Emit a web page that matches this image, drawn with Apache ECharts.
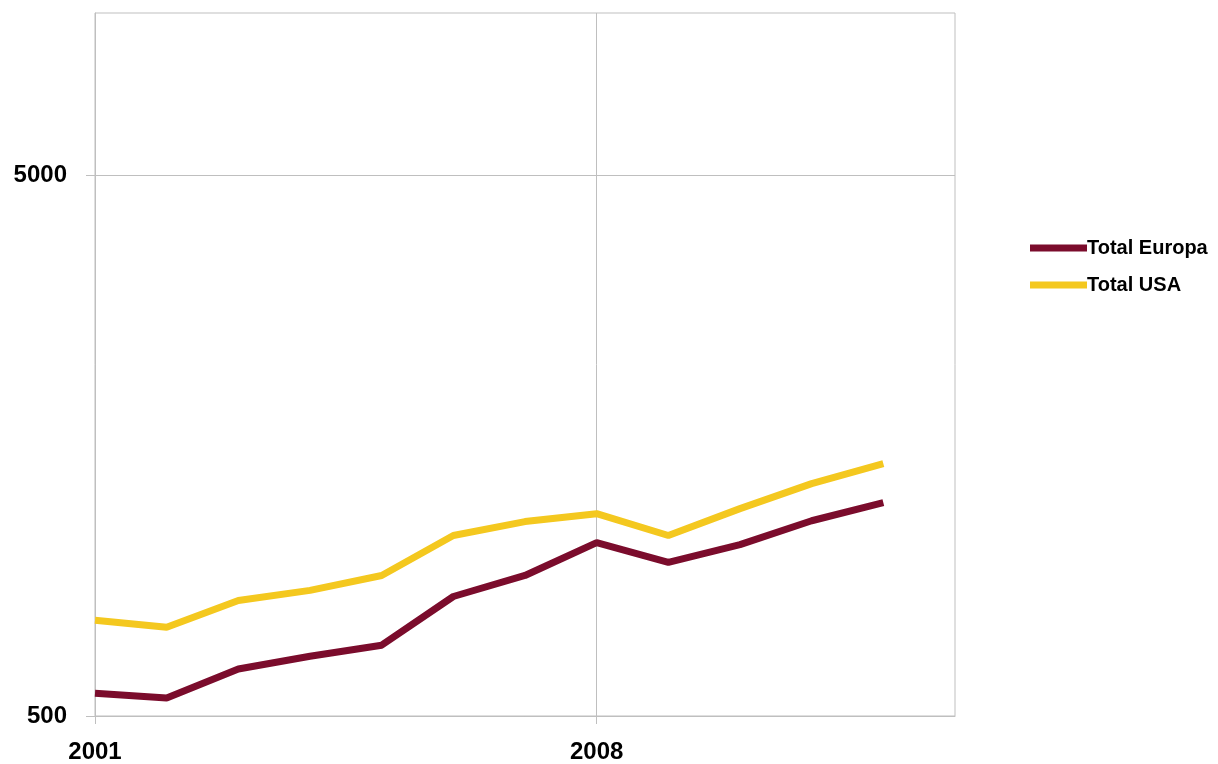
<!DOCTYPE html>
<html>
<head>
<meta charset="utf-8">
<script src="https://cdn.jsdelivr.net/npm/echarts@6/dist/echarts.min.js"></script>
<style>
html,body{margin:0;padding:0;background:#fff;}
#chart{width:1218px;height:764px;}
</style>
</head>
<body>
<div id="chart"></div>
<script>
const years = [2001, 2002, 2003, 2004, 2005, 2006, 2007, 2008, 2009, 2010, 2011, 2012];
const europa = [551, 540, 611, 645, 676, 832, 910, 1047, 962, 1038, 1149, 1241];
const usa = [752, 730, 818, 854, 910, 1079, 1145, 1184, 1079, 1210, 1346, 1465];
const xTicks = [2001, 2008];
const yTicks = [500, 5000];
const seriesNames = ['Total Europa', 'Total USA'];

const gray = '#BFBFBF';
const font = '"Liberation Sans", Arial, sans-serif';
const chart = echarts.init(document.getElementById('chart'), null, {renderer: 'canvas'});
chart.setOption({
  backgroundColor: '#ffffff',
  animation: false,
  grid: {left: 95, right: 263, top: 13, bottom: 46, show: true, borderColor: gray, borderWidth: 1},
  legend: {
    orient: 'vertical', left: 1025, top: 233,
    itemWidth: 57, itemHeight: 7, itemGap: 17,
    icon: 'rect',
    textStyle: {fontFamily: font, fontWeight: 'bold', fontSize: 20, color: '#000', padding: [0, 0, 0, -5]},
    data: seriesNames
  },
  xAxis: {
    type: 'value', min: 2001, max: 2013, interval: 7,
    axisLine: {show: true, lineStyle: {color: gray}},
    axisTick: {show: true, length: 8, lineStyle: {color: gray}, customValues: xTicks},
    axisLabel: {customValues: xTicks, formatter: v => String(v), fontFamily: font, fontWeight: 'bold', fontSize: 24, color: '#000', margin: 24},
    splitLine: {show: true, lineStyle: {color: gray}, customValues: xTicks}
  },
  yAxis: {
    type: 'log', logBase: 10, min: 500, max: 10000,
    axisLine: {show: true, lineStyle: {color: gray}},
    axisTick: {show: true, length: 9, lineStyle: {color: gray}, customValues: yTicks},
    axisLabel: {customValues: yTicks, formatter: v => String(Math.round(v)), fontFamily: font, fontWeight: 'bold', fontSize: 24, color: '#000', margin: 28},
    splitLine: {show: true, lineStyle: {color: gray}, customValues: yTicks}
  },
  series: [
    {
      name: seriesNames[0], type: 'line', symbol: 'none',
      data: years.map((y, i) => [y, europa[i]]),
      lineStyle: {width: 7, color: '#7B0C2C'}, itemStyle: {color: '#7B0C2C'}
    },
    {
      name: seriesNames[1], type: 'line', symbol: 'none',
      data: years.map((y, i) => [y, usa[i]]),
      lineStyle: {width: 7, color: '#F4C81F'}, itemStyle: {color: '#F4C81F'}
    }
  ]
});
</script>
</body>
</html>
